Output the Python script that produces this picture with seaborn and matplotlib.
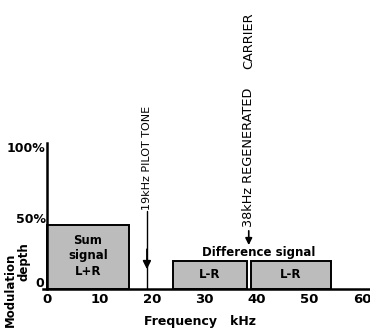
import matplotlib
matplotlib.use('Agg')
import matplotlib.pyplot as plt
import matplotlib.transforms as mtransforms
import seaborn as sns

# spectrum blocks of a stereo multiplex signal (kHz, % modulation)
block_start = [0, 24, 38.8]
block_end = [15.5, 38, 54]
block_depth = [45, 20, 20]
block_text = ['Sum\nsignal\nL+R', 'L-R', 'L-R']
pilot_khz = 19
carrier_khz = 38.4
x_ticks = [0, 10, 20, 30, 40, 50, 60]
y_ticks = [0, 50, 100]
y_ticklabels = ['0', '50%', '100%']

sns.set_theme(style='white')
plt.rcParams['font.family'] = ['DejaVu Sans']
plt.rcParams['text.color'] = 'black'
plt.rcParams['xtick.color'] = 'black'
plt.rcParams['ytick.color'] = 'black'

fig = plt.figure(figsize=(3.7, 3.31), dpi=100)
ax = fig.add_axes([43 / 370, 42 / 331, 327 / 370, 146 / 331])

widths = [e - s for s, e in zip(block_start, block_end)]
ax.bar(block_start, block_depth, width=widths, align='edge',
       color='#bcbcbc', edgecolor='black', linewidth=1.4, zorder=2)
for s, e, d, t in zip(block_start, block_end, block_depth, block_text):
    yy = d / 2 if '\n' not in t else d / 2 + 1
    ax.text((s + e) / 2, yy, t, ha='center', va='center', fontsize=8.5,
            fontweight='bold', linespacing=1.25, zorder=3)

ax.set_xlim(-0.8, 61.5)
ax.set_ylim(0, 103)
sns.despine(ax=ax)
ax.spines['left'].set_position(('data', 0))
for sp in ['left', 'bottom']:
    ax.spines[sp].set_color('black')
    ax.spines[sp].set_linewidth(1.8)

ax.set_xticks(x_ticks)
ax.set_xticklabels([str(v) for v in x_ticks], fontsize=9.5, fontweight='bold')
ax.set_yticks(y_ticks)
ax.set_yticklabels(y_ticklabels, fontsize=9, fontweight='bold')
ax.tick_params(axis='x', direction='out', length=3, width=1.2, pad=0)
ax.tick_params(axis='y', length=0, pad=1)
# lift the "0" so it sits above the x axis as in the original
zero_lbl = ax.get_yticklabels()[0]
zero_lbl.set_transform(zero_lbl.get_transform() +
                       mtransforms.ScaledTranslation(-2 / 100, 7 / 100, fig.dpi_scale_trans))

# pilot tone
ax.plot([pilot_khz, pilot_khz], [0, 55], color='black', lw=1, zorder=1)
ax.annotate('', xy=(pilot_khz, 12), xytext=(pilot_khz, 30),
            arrowprops=dict(arrowstyle='-|>', color='black', lw=1.2, mutation_scale=12))
ax.text(pilot_khz, 56, '19kHz PILOT TONE', rotation=90, ha='center', va='bottom',
        fontsize=8)

# regenerated carrier
ax.annotate('', xy=(carrier_khz, 29), xytext=(carrier_khz, 43),
            arrowprops=dict(arrowstyle='-|>', color='black', lw=1.2, mutation_scale=10))
ax.text(carrier_khz, 43.5, '38kHz REGENERATED', rotation=90, ha='center', va='bottom',
        fontsize=9.3)
ax.text(carrier_khz, 175, 'CARRIER', rotation=90, ha='center', va='center',
        fontsize=9.3)
ax.text(40.2, 26, 'Difference signal', ha='center', va='center', fontsize=8.5,
        fontweight='bold')

fig.text(200 / 370, 1 - 322 / 331, 'Frequency   kHz', ha='center', va='center',
         fontsize=9, fontweight='bold')
fig.text(10 / 370, 1 - 290 / 331, 'Modulation', rotation=90, ha='center', va='center',
         fontsize=8.5, fontweight='bold')
fig.text(24 / 370, 1 - 262 / 331, 'depth', rotation=90, ha='center', va='center',
         fontsize=8.5, fontweight='bold')

fig.savefig('out.png', dpi=100)
